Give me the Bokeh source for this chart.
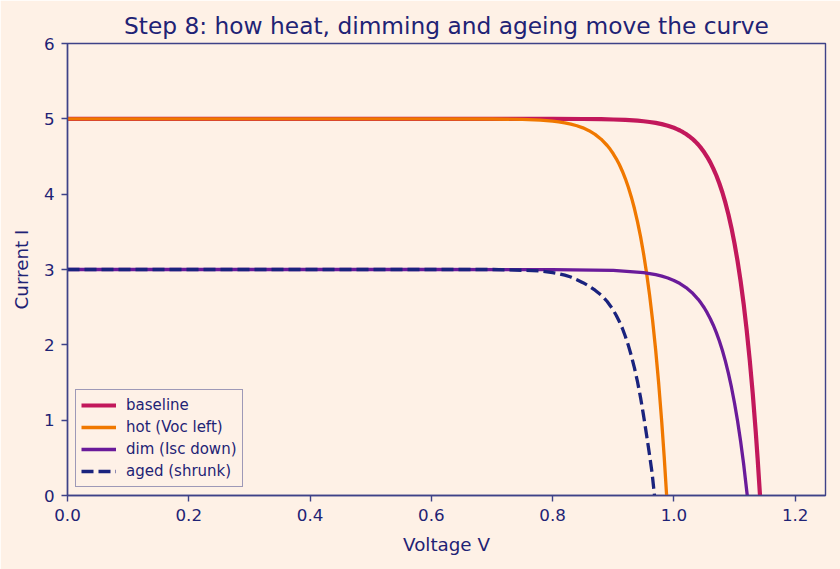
from bokeh.plotting import figure
from bokeh.models import Range1d, FixedTicker, PrintfTickFormatter
from bokeh.embed import file_html
from bokeh.resources import INLINE

# I-V curves (voltage in V, current in A)
v_baseline = [0.0, 0.2, 0.4, 0.6, 0.7, 0.8, 0.85, 0.88, 0.9, 0.92, 0.94, 0.95, 0.96, 0.97, 0.98,
              0.99, 1.0, 1.005, 1.01, 1.015, 1.02, 1.025, 1.03, 1.035, 1.04, 1.045, 1.05, 1.055,
              1.06, 1.065, 1.07, 1.075, 1.08, 1.085, 1.09, 1.095, 1.10, 1.105, 1.11, 1.115,
              1.12, 1.125, 1.13, 1.135, 1.138, 1.142]
i_baseline = [5.0, 5.0, 5.0, 5.0, 5.0, 4.999, 4.998, 4.995, 4.991, 4.985, 4.975, 4.968, 4.958,
              4.946, 4.930, 4.908, 4.881, 4.864, 4.845, 4.823, 4.798, 4.770, 4.738, 4.701,
              4.659, 4.611, 4.556, 4.493, 4.422, 4.340, 4.248, 4.142, 4.022, 3.884, 3.727,
              3.548, 3.344, 3.111, 2.846, 2.544, 2.198, 1.803, 1.354, 0.841, 0.498, 0.0]

v_hot = [0.0, 0.2, 0.4, 0.6, 0.7, 0.75, 0.78, 0.80, 0.81, 0.82, 0.83, 0.84, 0.85, 0.86, 0.87,
         0.88, 0.89, 0.895, 0.90, 0.905, 0.91, 0.915, 0.92, 0.925, 0.93, 0.935, 0.94, 0.945,
         0.95, 0.955, 0.96, 0.965, 0.97, 0.975, 0.98, 0.984, 0.988]
i_hot = [5.0, 5.0, 5.0, 5.0, 4.998, 4.992, 4.982, 4.969, 4.959, 4.947, 4.930, 4.908, 4.880,
         4.843, 4.794, 4.730, 4.646, 4.595, 4.536, 4.469, 4.393, 4.305, 4.204, 4.089, 3.957,
         3.806, 3.633, 3.436, 3.210, 2.951, 2.655, 2.315, 1.925, 1.480, 0.971, 0.512, 0.0]

v_dim = [0.0, 0.2, 0.4, 0.6, 0.8, 0.9, 0.95, 0.96, 0.97, 0.98, 0.99, 1.0, 1.01, 1.02, 1.03,
         1.04, 1.045, 1.05, 1.055, 1.06, 1.065, 1.07, 1.075, 1.08, 1.085, 1.09, 1.095, 1.10,
         1.105, 1.11, 1.115, 1.121]
i_dim = [3.0, 3.0, 3.0, 3.0, 2.999, 2.988, 2.958, 2.946, 2.931, 2.912, 2.887, 2.854, 2.813,
         2.760, 2.692, 2.604, 2.551, 2.492, 2.424, 2.347, 2.260, 2.162, 2.050, 1.924, 1.780,
         1.618, 1.434, 1.225, 0.989, 0.721, 0.418, 0.0]

v_aged = [0.0, 0.2, 0.4, 0.6, 0.7, 0.75, 0.78, 0.80, 0.81, 0.82, 0.83, 0.84, 0.85, 0.86, 0.87,
          0.88, 0.885, 0.89, 0.895, 0.90, 0.905, 0.91, 0.915, 0.92, 0.925, 0.93, 0.935, 0.94,
          0.945, 0.95, 0.955, 0.96, 0.964, 0.968]
i_aged = [3.0, 3.0, 3.0, 3.0, 3.0, 2.99, 2.98, 2.96, 2.945, 2.925, 2.90, 2.865, 2.825, 2.78,
          2.725, 2.66, 2.62, 2.575, 2.52, 2.46, 2.39, 2.31, 2.22, 2.11, 1.99, 1.85, 1.69, 1.51,
          1.30, 1.06, 0.80, 0.53, 0.30, 0.0]

x_ticks = [0.0, 0.2, 0.4, 0.6, 0.8, 1.0, 1.2]
y_ticks = [0, 1, 2, 3, 4, 5, 6]

BG = "#FEF1E6"
NAVY = "#1F2375"
FRAME = "#3E4288"
FONT = "DejaVu Sans"

p = figure(width=840, height=569, output_backend="svg", toolbar_location=None,
           x_range=Range1d(0, 1.25), y_range=Range1d(0, 6),
           title="Step 8: how heat, dimming and ageing move the curve",
           x_axis_label="Voltage V", y_axis_label="Current I",
           min_border_left=67, min_border_right=15, min_border_top=43, min_border_bottom=74)

p.background_fill_color = BG
p.border_fill_color = BG
p.outline_line_color = FRAME
p.outline_line_width = 1.4
p.xgrid.visible = False
p.ygrid.visible = False

p.title.align = "center"
p.title.text_font = FONT
p.title.text_font_size = "23.3px"
p.title.text_font_style = "normal"
p.title.text_color = NAVY
p.title.standoff = 10

for ax in (p.xaxis[0], p.yaxis[0]):
    ax.axis_line_color = FRAME
    ax.axis_line_width = 1.4
    ax.major_tick_line_color = FRAME
    ax.major_tick_line_width = 1.4
    ax.major_tick_in = 0
    ax.major_tick_out = 6
    ax.minor_tick_line_color = None
    ax.major_label_text_font = FONT
    ax.major_label_text_font_size = "16.7px"
    ax.major_label_text_color = NAVY
    ax.axis_label_text_font = FONT
    ax.axis_label_text_font_size = "18.3px"
    ax.axis_label_text_font_style = "normal"
    ax.axis_label_text_color = NAVY
    ax.major_label_standoff = 7

p.xaxis.axis_label_standoff = 10
p.yaxis.axis_label_standoff = 9

p.xaxis.ticker = FixedTicker(ticks=x_ticks)
p.xaxis.formatter = PrintfTickFormatter(format="%.1f")
p.yaxis.ticker = FixedTicker(ticks=y_ticks)
p.yaxis.formatter = PrintfTickFormatter(format="%d")

p.line(v_baseline, i_baseline, line_color="#C2185B", line_width=4.2, legend_label="baseline")
p.line(v_hot, i_hot, line_color="#F07800", line_width=3.3, legend_label="hot (Voc left)")
p.line(v_dim, i_dim, line_color="#6A1B9A", line_width=3.3, legend_label="dim (Isc down)")
p.line(v_aged, i_aged, line_color="#1A237E", line_width=3.3, line_dash="12 5",
       legend_label="aged (shrunk)")

lg = p.legend[0]
lg.location = (8, 8)
lg.background_fill_color = BG
lg.background_fill_alpha = 0.85
lg.border_line_color = FRAME
lg.border_line_width = 1.4
lg.label_text_font = FONT
lg.label_text_font_size = "15px"
lg.label_text_color = NAVY
lg.glyph_width = 35
lg.glyph_height = 20
lg.label_height = 20
lg.label_standoff = 10
lg.spacing = 2
lg.padding = 5
lg.margin = 0

open("out.html", "w").write(file_html(p, INLINE))
